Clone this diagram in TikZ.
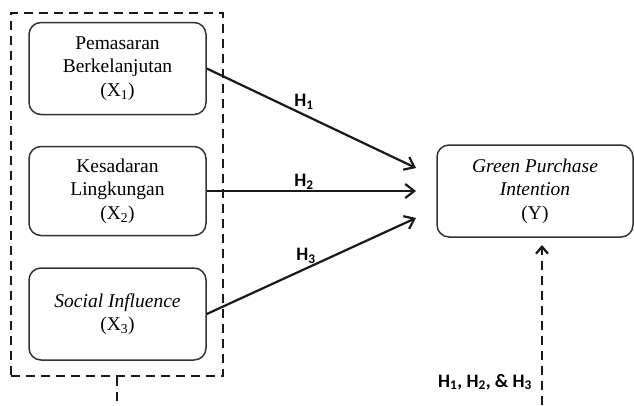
\documentclass[tikz,border=0pt]{standalone}
\usepackage{fontspec}
\setmainfont{Liberation Serif}
\newfontfamily\hfont{Carlito}
\usetikzlibrary{arrows.meta}
\tikzset{
  varbox/.style={draw=black!80, line width=1.5pt, rounded corners=12pt, align=center,
    font=\fontsize{19.5}{23.5}\selectfont, inner sep=0pt},
  grp/.style={draw=black!90, line width=2.2pt, dash pattern=on 9pt off 6pt, inner sep=0pt},
  dashline/.style={draw=black!90, line width=2.2pt, dash pattern=on 9pt off 6pt},
  hyp/.style={draw=black!90, line width=2.2pt, -{Straight Barb[length=9pt,width=14pt,line width=2.2pt]}},
  hlabel/.style={font=\hfont\bfseries\fontsize{19}{21}\selectfont, inner sep=0pt}
}
\begin{document}
\begin{tikzpicture}[x=1pt,y=-1pt]
\useasboundingbox (0,0) rectangle (634,405);
\node[grp, minimum width=212pt, minimum height=363pt] (group) at (117,194.5) {};
\node[varbox, minimum width=177pt, minimum height=92pt] (x1) at (117.5,68.5) {Pemasaran\\Berkelanjutan\\(X\textsubscript{1})};
\node[varbox, minimum width=177pt, minimum height=89pt] (x2) at (117.5,191) {Kesadaran\\Lingkungan\\(X\textsubscript{2})};
\node[varbox, minimum width=177pt, minimum height=92pt] (x3) at (117.5,314) {\textit{Social Influence}\\(X\textsubscript{3})};
\node[varbox, minimum width=196pt, minimum height=92pt] (y) at (535,191) {\textit{Green Purchase}\\\textit{Intention}\\(Y)};
\coordinate (e1) at (416,168);
\coordinate (e2) at (416,191);
\coordinate (e3) at (416,218);
\draw[hyp] (x1.east) -- (e1);
\draw[hyp] (x2.east) -- (e2);
\draw[hyp] (x3.east) -- (e3);
\node[hlabel] (h1) at (304,102) {H\textsubscript{1}};
\node[hlabel] (h2) at (304,182) {H\textsubscript{2}};
\node[hlabel] (h3) at (306,256) {H\textsubscript{3}};
\coordinate (s1) at (117,405);
\draw[dashline] (group.south) -- (s1);
\coordinate (a0) at (542,405);
\coordinate (a1) at (542,245);
\draw[dashline, -{Straight Barb[length=7pt,width=12pt,line width=2.2pt]}] (a0) -- (a1);
\node[hlabel] (hall) at (485,382) {H\textsubscript{1}, H\textsubscript{2}, \& H\textsubscript{3}};
\end{tikzpicture}
\end{document}
